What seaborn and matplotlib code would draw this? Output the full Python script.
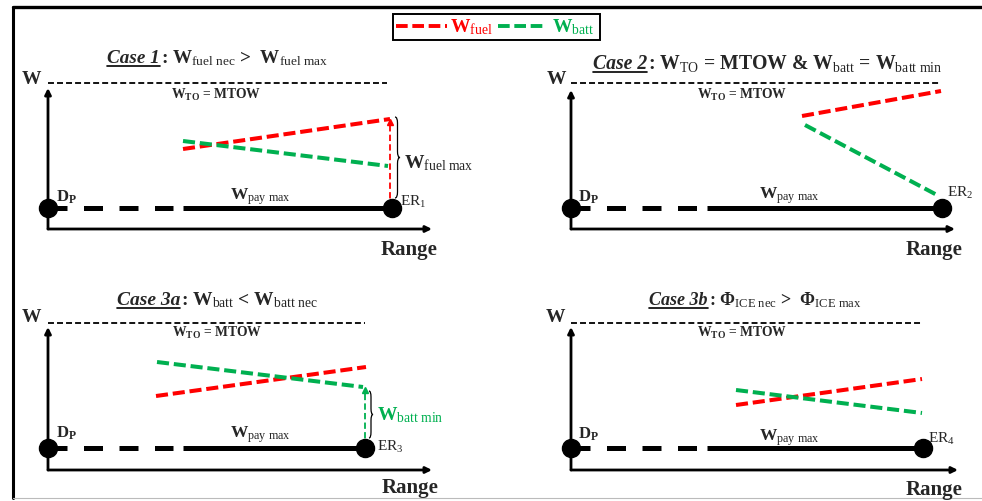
import matplotlib
matplotlib.use("Agg")
import matplotlib.pyplot as plt
import numpy as np
import pandas as pd
import seaborn as sns
from matplotlib.path import Path
from matplotlib.patches import PathPatch, Rectangle

# ---- data (range / weight in local diagram units) ----
case_labels = ["Case 1", "Case 2", "Case 3a", "Case 3b"]
case_conditions = [
    r": $\mathbf{W}_{\mathrm{fuel\ nec}}$ >  $\mathbf{W}_{\mathrm{fuel\ max}}$",
    r": $\mathbf{W}_{\mathrm{TO}}$ = MTOW & $\mathbf{W}_{\mathrm{batt}}$ = $\mathbf{W}_{\mathrm{batt\ min}}$",
    r": $\mathbf{W}_{\mathrm{batt}}$ < $\mathbf{W}_{\mathrm{batt\ nec}}$",
    r": $\mathbf{\Phi}_{\mathrm{ICE\ nec}}$ >  $\mathbf{\Phi}_{\mathrm{ICE\ max}}$",
]
endpoint_labels = ["ER$_1$", "ER$_2$", "ER$_3$", "ER$_4$"]

mtow_weight = [146, 146, 147, 147]
mtow_range_end = [339, 370, 317, 351]
payload_weight = [21, 21, 22, 22]
endurance_range = [344, 371, 317, 352]
payload_dashed_end = [135, 136, 135, 136]

fuel_range = [[135, 342], [231, 370], [108, 318], [165, 351]]
fuel_weight = [[80, 110], [113, 138], [74, 103], [65, 91]]
batt_range = [[135, 340], [234, 366], [109, 315], [165, 351]]
batt_weight = [[88, 63], [104, 34], [108, 83], [80, 57]]

FUEL_C = "#FF0000"
BATT_C = "#00B050"

sns.set_theme(style="white")
plt.rcParams["font.family"] = ["Liberation Serif", "DejaVu Serif"]
plt.rcParams["mathtext.fontset"] = "custom"
plt.rcParams["mathtext.rm"] = "Liberation Serif"
plt.rcParams["mathtext.it"] = "Liberation Serif:italic"
plt.rcParams["mathtext.bf"] = "Liberation Serif:bold"

W, H = 982, 501
fig = plt.figure(figsize=(W / 100, H / 100), dpi=100)
fig.patch.set_facecolor("white")
renderer = fig.canvas.get_renderer()

# background layer in pixel units: frame and legend
bg = fig.add_axes([0, 0, 1, 1])
bg.set_xlim(0, W)
bg.set_ylim(H, 0)
bg.axis("off")
bg.plot([13, 13], [7, 498], color="black", lw=2.2)
bg.plot([13, W], [7, 7], color="black", lw=2.4)
bg.plot([13, W], [498, 498], color="#bbbbbb", lw=0.8)
bg.add_patch(Rectangle((393, 14), 207, 26, fill=False, lw=1.4, ec="black"))
bg.plot([396, 447], [26, 26], color=FUEL_C, lw=2.8, dashes=(3, 1.2))
bg.text(450, 32, r"$\mathbf{W}_{\mathrm{fuel}}$", color=FUEL_C, fontsize=14, va="baseline")
bg.plot([498, 545], [26, 26], color=BATT_C, lw=2.8, dashes=(3, 1.2))
bg.text(552, 32, r"$\mathbf{W}_{\mathrm{batt}}$", color=BATT_C, fontsize=14, va="baseline")

origins = [(48, 229), (571, 229), (48, 470), (571, 470)]
yaxis_len = [141, 139, 143, 143]
xaxis_len = [384, 384, 384, 387]


def brace(ax, x, top, bot, width):
    m = (top + bot) / 2
    c = min(6, (top - bot) / 6)
    h = x + width / 2
    verts = [(x, top), (h, top), (h, top - c), (h, m + c), (h, m), (x + width, m),
             (h, m), (h, m - c), (h, bot + c), (h, bot), (x, bot)]
    codes = [Path.MOVETO, Path.CURVE3, Path.CURVE3, Path.LINETO, Path.CURVE3, Path.CURVE3,
             Path.CURVE3, Path.CURVE3, Path.LINETO, Path.CURVE3, Path.CURVE3]
    ax.add_patch(PathPatch(Path(verts, codes), fill=False, lw=0.9, ec="black", clip_on=False))


def title(ax, xc, yb, label, rest, fs):
    t1 = ax.text(0, yb, label, fontsize=fs, fontstyle="italic", fontweight="bold",
                 va="baseline", ha="left")
    t2 = ax.text(0, yb, rest, fontsize=fs, fontweight="bold", va="baseline", ha="left")
    w1 = t1.get_window_extent(renderer).width
    w2 = t2.get_window_extent(renderer).width
    x0 = xc - (w1 + w2) / 2
    t1.set_x(x0)
    t2.set_x(x0 + w1 + 1)
    ax.plot([x0, x0 + w1], [yb - 2.5, yb - 2.5], color="black", lw=1.2, clip_on=False)


# per-panel text anchors (local units)
title_pos = [(169, 166, 13.8), (196, 160, 14.2), (169, 165, 14), (184, 165, 13)]
wlabel_pos = [(-17, 149), (-15, 149), (-17, 153), (-16, 152)]
mtow_lbl_pos = [(168, 134), (171, 134), (169, 137), (171, 137)]
dp_pos = [(8, 32), (7, 32), (8, 37), (7, 36)]
pay_pos = [(212, 29), (218, 30), (212, 32), (218, 29)]
er_pos = [(352, 27), (376, 36), (329, 23), (357, 31)]
range_pos = [(361, -21), (363, -21), (362, -18), (363, -20)]

for i, (ox, oy) in enumerate(origins):
    ax = fig.add_axes([(ox - 60) / W, (H - (oy + 40)) / H, 480 / W, 240 / H])

    df = pd.DataFrame({
        "range": fuel_range[i] + batt_range[i],
        "weight": fuel_weight[i] + batt_weight[i],
        "series": ["fuel", "fuel", "batt", "batt"],
    })
    sns.lineplot(data=df, x="range", y="weight", hue="series", style="series",
                 palette={"fuel": FUEL_C, "batt": BATT_C},
                 dashes={"fuel": (3, 1.2), "batt": (3, 1.2)},
                 linewidth=2.9, sort=False, estimator=None, legend=False, ax=ax, zorder=3)
    ax.set_xlim(-60, 420)
    ax.set_ylim(-40, 200)
    ax.axis("off")

    # axes arrows
    ax.annotate("", xy=(0, yaxis_len[i]), xytext=(0, 0),
                arrowprops=dict(arrowstyle="-|>", lw=2.0, color="black", mutation_scale=9,
                                shrinkA=0, shrinkB=0))
    ax.annotate("", xy=(xaxis_len[i], 0), xytext=(0, 0),
                arrowprops=dict(arrowstyle="-|>", lw=2.0, color="black", mutation_scale=9,
                                shrinkA=0, shrinkB=0))

    # MTOW line
    ax.plot([0, mtow_range_end[i]], [mtow_weight[i], mtow_weight[i]], color="black",
            lw=1.3, dashes=(3.3, 1.7), clip_on=False)

    # payload line
    pw = payload_weight[i]
    ax.plot([0, payload_dashed_end[i] - 10], [pw, pw], color="black", lw=3.6,
            dashes=(3.8, 3.3), solid_capstyle="butt", clip_on=False)
    ax.plot([payload_dashed_end[i], endurance_range[i]], [pw, pw], color="black",
            lw=3.6, solid_capstyle="butt", clip_on=False)
    ax.plot([0, endurance_range[i]], [pw, pw], "o", ms=13, color="black", zorder=5,
            clip_on=False)

    # labels
    tx, ty, fs = title_pos[i]
    title(ax, tx, ty, case_labels[i], case_conditions[i], fs)
    ax.text(*wlabel_pos[i], "W", fontsize=14, fontweight="bold", ha="center", va="center")
    ax.text(*mtow_lbl_pos[i], r"$\mathbf{W}_{\mathbf{TO}}$ = MTOW", fontsize=9.8,
            fontweight="bold", ha="center", va="center")
    ax.text(*dp_pos[i], r"$\mathbf{D}_{\mathbf{P}}$", fontsize=12, ha="left", va="center")
    ax.text(*pay_pos[i], r"$\mathbf{W}_{\mathrm{pay\ max}}$", fontsize=12.5, ha="center",
            va="baseline")
    ax.text(*er_pos[i], endpoint_labels[i], fontsize=11, ha="left", va="center")
    ax.text(*range_pos[i], "Range", fontsize=15, fontweight="bold", ha="center", va="center")

    if i == 0:
        xr = fuel_range[0][1]
        ax.plot([xr, xr], [pw, fuel_weight[0][1] - 4], color=FUEL_C, lw=1.3,
                dashes=(3.5, 1.8), zorder=2)
        ax.plot([xr], [fuel_weight[0][1] - 3], "^", ms=5, color=FUEL_C, zorder=2)
        brace(ax, 347, 112, 31, 5)
        ax.text(356, 66, r"$\mathbf{W}_{\mathrm{fuel\ max}}$", fontsize=14, ha="left",
                va="center")
    if i == 2:
        xr = endurance_range[2]
        ax.plot([xr, xr], [pw, batt_weight[2][1] - 4], color=BATT_C, lw=1.3,
                dashes=(3.5, 1.8), zorder=2)
        ax.plot([xr], [batt_weight[2][1] - 3], "^", ms=5, color=BATT_C, zorder=2)
        brace(ax, 321, 79, 32, 4)
        ax.text(329, 55, r"$\mathbf{W}_{\mathrm{batt\ min}}$", fontsize=14, color=BATT_C,
                ha="left", va="center")

fig.savefig("out.png", dpi=100, facecolor="white")
